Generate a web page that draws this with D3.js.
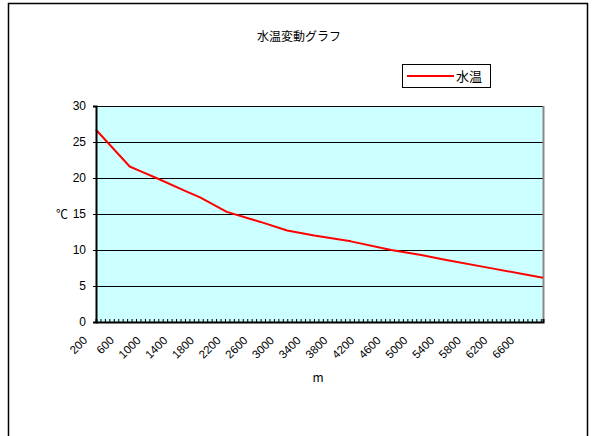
<!DOCTYPE html>
<html><head><meta charset="utf-8">
<script src="https://cdn.jsdelivr.net/npm/d3@7"></script>
<style>html,body{margin:0;padding:0;background:#fff;}svg{display:block;}</style>
</head><body>
<script>
const title = "水温変動グラフ";
const seriesName = "水温";
const depths = [200, 705, 855, 1105, 1560, 1760, 2160, 2665, 3065, 3470, 4020, 4625, 5075, 5430, 6135, 6900];
const temps  = [26.7, 21.6, 21.0, 20.0, 18.1, 17.3, 15.3, 13.9, 12.7, 12.0, 11.2, 10.0, 9.3, 8.65, 7.45, 6.15];
const xTickLabels = [200, 600, 1000, 1400, 1800, 2200, 2600, 3000, 3400, 3800, 4200, 4600, 5000, 5400, 5800, 6200, 6600];
const yTicks = [0, 5, 10, 15, 20, 25, 30];
const xTitle = "m", yTitle = "℃";

(function () {
const W = 596, H = 436;
const pL = 96, pR = 543, pT = 106, pB = 322;
const font = "'Noto Sans CJK JP', 'Liberation Sans', sans-serif";
const numFont = "'Liberation Sans', Arial, sans-serif";

const svg = d3.select("body").append("svg").attr("width", W).attr("height", H);
svg.append("rect").attr("width", W).attr("height", H).attr("fill", "#fff");

// chart frame
svg.append("path").attr("d", `M8.5,${H} V3.5 H587.5 V${H}`).attr("fill", "none").attr("stroke", "#000").attr("stroke-width", 1.5);

const x = d3.scaleLinear().domain([200, 6900]).range([pL, pR]);
const y = d3.scaleLinear().domain([0, 30]).range([pB, pT]);

// plot area
svg.append("rect").attr("x", pL).attr("y", pT).attr("width", pR - pL).attr("height", pB - pT).attr("fill", "#ccffff");

// gridlines
svg.append("g").selectAll("line").data(yTicks.filter(d => d > 0)).join("line")
  .attr("x1", pL).attr("x2", pR).attr("y1", d => Math.round(y(d)) + 0.5).attr("y2", d => Math.round(y(d)) + 0.5)
  .attr("stroke", "#000").attr("stroke-width", 1);

// right border grey
svg.append("line").attr("x1", pR + 0.5).attr("x2", pR + 0.5).attr("y1", pT).attr("y2", pB)
  .attr("stroke", "#888").attr("stroke-width", 2);

// line
const line = d3.line().x((d, i) => x(depths[i])).y(d => y(d));
svg.append("path").datum(temps).attr("d", line).attr("fill", "none").attr("stroke", "#ff0000").attr("stroke-width", 2).attr("stroke-linejoin", "round");

// y axis
const yAxis = d3.axisLeft(y).tickValues(yTicks).tickSize(3).tickPadding(7);
const gy = svg.append("g").attr("transform", `translate(${pL},0)`).call(yAxis);
gy.select(".domain").attr("stroke", "#000").attr("stroke-width", 2);
gy.selectAll("text").attr("font-family", numFont).attr("font-size", 12).attr("fill", "#000");

// x axis minor ticks (each category)
const cats = d3.range(200, 6901, 200 / 3);
const xAxis = d3.axisBottom(x).tickValues(cats).tickSize(-3).tickFormat("");
const gx = svg.append("g").attr("transform", `translate(0,${pB})`).call(xAxis);
gx.select(".domain").attr("stroke", "#000").attr("stroke-width", 2);
gx.selectAll(".tick line").attr("stroke", "#000");

// x labels
svg.append("g").selectAll("text").data(xTickLabels).join("text")
  .attr("transform", d => `translate(${x(d) - 14},${pB + 13}) rotate(-45)`)
  .attr("text-anchor", "end").attr("dy", "0.75em")
  .attr("font-family", numFont).attr("font-size", 11.5).attr("fill", "#000")
  .text(d => d);

// titles
svg.append("text").attr("x", 299).attr("y", 41).attr("text-anchor", "middle")
  .attr("font-family", font).attr("font-size", 12).text(title);
svg.append("text").attr("x", 318).attr("y", 382).attr("text-anchor", "middle")
  .attr("font-family", font).attr("font-size", 12).text(xTitle);
svg.append("text").attr("x", 62).attr("y", 219).attr("text-anchor", "middle")
  .attr("font-family", font).attr("font-size", 12).text(yTitle);

// legend
const lg = svg.append("g");
lg.append("rect").attr("x", 402.5).attr("y", 64.5).attr("width", 88).attr("height", 23)
  .attr("fill", "#fff").attr("stroke", "#000").attr("stroke-width", 1);
lg.append("line").attr("x1", 407).attr("x2", 454).attr("y1", 76).attr("y2", 76).attr("stroke", "#ff0000").attr("stroke-width", 2);
lg.append("text").attr("x", 456).attr("y", 81).attr("font-family", font).attr("font-size", 13).text(seriesName);
})();
</script>
</body></html>
